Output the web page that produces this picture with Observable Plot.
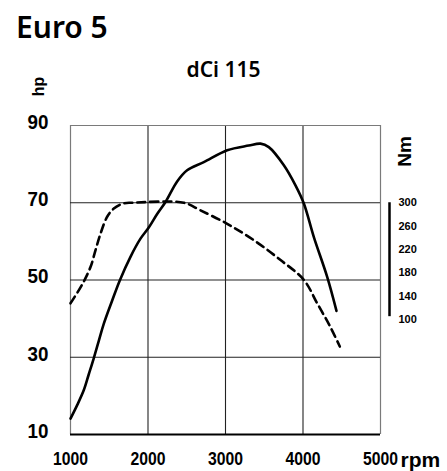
<!DOCTYPE html>
<html>
<head>
<meta charset="utf-8">
<script src="https://cdn.jsdelivr.net/npm/d3@7"></script>
<script src="https://cdn.jsdelivr.net/npm/@observablehq/plot@0.6"></script>
<style>
  html, body { margin: 0; padding: 0; background: #fff; }
  #wrap { width: 447px; height: 471px; overflow: hidden; }
  #title { height: 50px; box-sizing: border-box; padding: 12px 0 0 16px; font-family: "Noto Sans", "Open Sans", sans-serif; font-size: 30px; font-weight: 600; line-height: 30px; color: #000; }
  svg { display: block; }
</style>
</head>
<body>
<div id="wrap">
  <div id="title"></div>
  <div id="chart"></div>
</div>
<script>
const titleText = "Euro 5";
const subtitleText = "dCi 115";
const rpmTicks = [1000, 2000, 3000, 4000, 5000];
const hpTicks = [10, 30, 50, 70, 90];
const nmTicks = [100, 140, 180, 220, 260, 300];

// Power curve (hp), solid
const powerRpm = [1000, 1086, 1172, 1236, 1301, 1366, 1430, 1538, 1636, 1774, 1903, 2010, 2118, 2226, 2376, 2505, 2720, 3022, 3300, 3452, 3559, 3753, 3903, 4011, 4140, 4312, 4432];
const powerHp  = [14.1, 17.6, 21.5, 25.6, 29.8, 34.3, 38.7, 44.7, 49.9, 56, 60.7, 63.6, 67.1, 70.2, 75.5, 78.4, 80.5, 83.6, 84.8, 85.3, 84.4, 79.7, 74.5, 69.8, 61.1, 50.8, 42];

// Torque curve (Nm), dashed
const torqueRpm = [1000, 1150, 1258, 1323, 1387, 1473, 1559, 1688, 1800, 2462, 2677, 3022, 3365, 3710, 4011, 4183, 4355, 4475];
const torqueNm  = [128, 160, 190, 219, 247, 276, 290, 299, 300, 300, 287, 264, 236, 202, 168, 128, 87, 54];

// secondary (Nm) axis placement relative to the hp grid: 300 Nm sits on the 70 hp line
const nmRef = 300, hpRef = 70, hpPerNm = 0.15136;
const nm2hp = (nm) => hpRef - (nmRef - nm) * hpPerNm;

const power = powerRpm.map((r, i) => ({rpm: r, hp: powerHp[i]}));
const torque = torqueRpm.map((r, i) => ({rpm: r, hp: nm2hp(torqueNm[i])}));

const ui = '"Liberation Sans", Arial, sans-serif';
const sans = '"Noto Sans", "Open Sans", sans-serif';

const chart = Plot.plot({
  width: 447,
  height: 421,
  marginTop: 75,
  marginLeft: 70,
  marginRight: 67,
  marginBottom: 37,
  style: {fontFamily: ui, background: "#fff", color: "#000", overflow: "visible"},
  x: {domain: [1000, 5000], axis: null},
  y: {domain: [10, 90], axis: null},
  marks: [
    Plot.ruleX([1000, 5000], {stroke: "#7a7a7a", strokeWidth: 1.2}),
    Plot.ruleX([2000, 3000, 4000], {stroke: "#222", strokeWidth: 1.1}),
    Plot.ruleY([90], {stroke: "#7a7a7a", strokeWidth: 1.2}),
    Plot.ruleY([30, 50, 70], {stroke: "#222", strokeWidth: 1.1}),
    Plot.ruleY([10], {stroke: "#000", strokeWidth: 2}),
    Plot.line(torque, {x: "rpm", y: "hp", stroke: "#000", strokeWidth: 2.6, strokeDasharray: "8,5", curve: "catmull-rom"}),
    Plot.line(power, {x: "rpm", y: "hp", stroke: "#000", strokeWidth: 2.6, curve: "catmull-rom"}),
    Plot.axisY(hpTicks, {tickSize: 0, tickPadding: 22, fontSize: 20, fontWeight: "bold", dy: -3, label: null, tickFormat: (d) => String(d)}),
    Plot.axisX(rpmTicks, {tickSize: 0, tickPadding: 17, fontSize: 19, fontWeight: "bold", label: null, tickFormat: (d) => String(d)}),
    Plot.ruleX([{rpm: 5000, a: nm2hp(300), b: nm2hp(100)}], {x: "rpm", y1: "a", y2: "b", dx: 9, stroke: "#000", strokeWidth: 2.5, insetBottom: 3}),
    Plot.text(nmTicks, {y: (d) => nm2hp(d), text: (d) => String(d), frameAnchor: "right", textAnchor: "start", lineAnchor: "middle", dx: 18, fontSize: 11, fontWeight: "bold"}),
    Plot.text(["Nm"], {text: (d) => d, frameAnchor: "top-right", textAnchor: "middle", lineAnchor: "middle", dx: 24, dy: 26, rotate: -90, fontSize: 19, fontWeight: "bold", ariaLabel: "nm-label"}),
    Plot.text(["hp"], {text: (d) => d, frameAnchor: "top-left", textAnchor: "middle", lineAnchor: "middle", dx: -32, dy: -39, rotate: -90, fontSize: 16, fontWeight: "bold"}),
    Plot.text(["rpm"], {text: (d) => d, frameAnchor: "bottom-right", textAnchor: "start", lineAnchor: "middle", dx: 20, dy: 26, fontSize: 21, fontWeight: "bold"}),
    Plot.text([subtitleText], {text: (d) => d, frameAnchor: "top", textAnchor: "middle", lineAnchor: "middle", dx: -2, dy: -55, fontSize: 21, fontWeight: 600, fontFamily: sans})
  ]
});

// narrow the condensed-looking labels horizontally (glyph shape only; positions kept)
function condense(svg, selector, k) {
  svg.querySelectorAll(selector).forEach((t) => {
    const tr = t.getAttribute("transform") || "";
    t.setAttribute("transform", `${tr} scale(${k},1)`.trim());
  });
}
condense(chart, 'g[aria-label="x-axis tick label"] text', 0.83);
condense(chart, 'g[aria-label="y-axis tick label"] text', 0.94);
condense(chart, 'g[aria-label="nm-label"] text', 0.88);

document.getElementById("title").textContent = titleText;
document.getElementById("chart").appendChild(chart);
</script>
</body>
</html>
